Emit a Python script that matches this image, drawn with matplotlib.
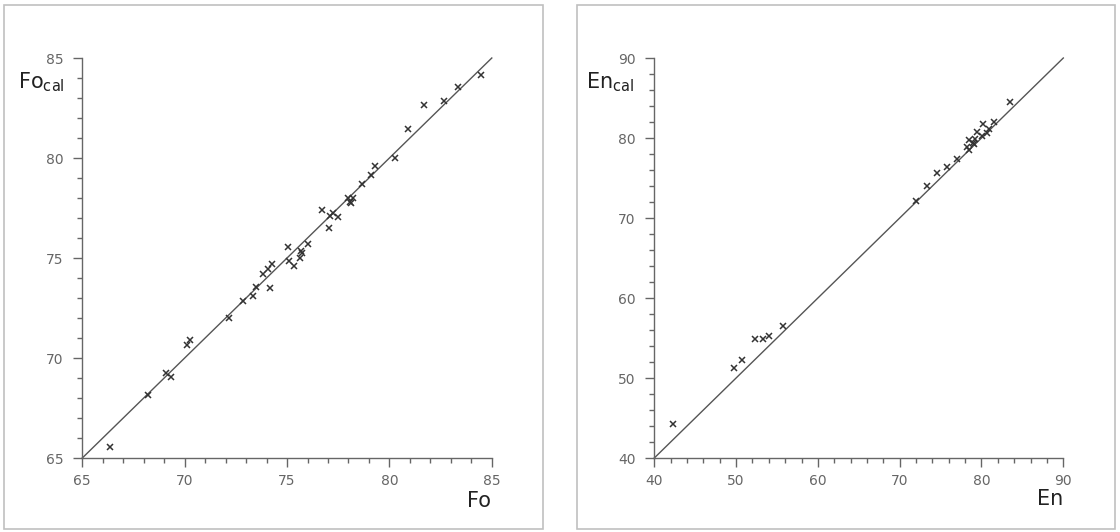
import matplotlib.pyplot as plt
from matplotlib.patches import Rectangle
from matplotlib.ticker import MultipleLocator

# Forsterite: observed vs calculated
fo_range = [65, 85]
fo_obs = [66.34, 68.23, 69.10, 69.33, 70.10, 70.24, 72.16, 72.83, 73.34, 73.47,
          74.17, 73.81, 74.05, 74.25, 75.03, 75.09, 75.32, 75.63, 75.68, 75.71,
          76.01, 76.70, 77.06, 77.09, 77.23, 77.49, 77.96, 78.09, 78.20, 78.14,
          78.67, 79.10, 79.28, 80.27, 80.90, 81.67, 82.68, 83.36, 84.48]
fo_cal = [65.57, 68.16, 69.24, 69.07, 70.64, 70.90, 72.01, 72.85, 73.10, 73.53,
          73.48, 74.22, 74.43, 74.72, 75.57, 74.85, 74.60, 75.02, 75.37, 75.27,
          75.72, 77.40, 76.52, 77.10, 77.27, 77.03, 77.99, 77.79, 78.00, 77.75,
          78.70, 79.17, 79.61, 80.02, 81.44, 82.65, 82.85, 83.55, 84.17]

# Enstatite: observed vs calculated
en_range = [40, 90]
en_obs = [42.23, 49.73, 50.73, 52.26, 53.31, 54.01, 55.75, 71.98, 73.29, 74.52,
          75.75, 77.04, 78.19, 78.51, 78.51, 78.92, 79.17, 79.12, 79.49, 80.02,
          80.15, 80.71, 80.92, 81.53, 83.48]
en_cal = [44.27, 51.28, 52.25, 54.91, 54.82, 55.25, 56.51, 72.18, 74.04, 75.62,
          76.37, 77.37, 78.82, 78.53, 79.78, 79.36, 79.90, 79.24, 80.74, 80.31,
          81.73, 80.61, 81.11, 81.98, 84.48]

W, H = 1120, 532
fig = plt.figure(figsize=(W / 100, H / 100), dpi=100)

# panel frames
for x0, x1 in [(4, 543), (577, 1115)]:
    fig.patches.append(Rectangle((x0 / W, 1 - 529 / H), (x1 - x0) / W, 524 / H,
                                 transform=fig.transFigure, fill=False,
                                 edgecolor='#c0c0c0', lw=1.2))


def make_panel(left, right, rng, major, minor, xs, ys):
    ax = fig.add_axes([left / W, 1 - 458 / H, (right - left) / W, 400 / H])
    ax.plot(rng, rng, color='#555555', lw=1, clip_on=False)
    ax.plot(xs, ys, 'x', color='#333333', ms=3.8, mew=1.1, clip_on=False)
    ax.set_xlim(rng)
    ax.set_ylim(rng)
    for s in ['top', 'right']:
        ax.spines[s].set_visible(False)
    for s in ['left', 'bottom']:
        ax.spines[s].set_color('#666666')
        ax.spines[s].set_linewidth(1)
    ax.xaxis.set_major_locator(MultipleLocator(major))
    ax.yaxis.set_major_locator(MultipleLocator(major))
    ax.xaxis.set_minor_locator(MultipleLocator(minor))
    ax.yaxis.set_minor_locator(MultipleLocator(minor))
    ax.tick_params(which='major', length=6.5, width=1, color='#666666',
                   labelcolor='#666666', labelsize=10, direction='out')
    ax.tick_params(which='minor', length=3.5, width=1, color='#666666', direction='out')
    ax.tick_params(axis='x', pad=5)
    ax.tick_params(axis='y', pad=7)
    return ax


make_panel(82.3, 491.8, fo_range, 5, 1, fo_obs, fo_cal)
make_panel(654.3, 1063.3, en_range, 10, 2, en_obs, en_cal)

lab = dict(fontsize=15, color='#222222', va='baseline')
fig.text(18 / W, 1 - 88 / H, r'Fo$_{\mathregular{cal}}$', ha='left', **lab)
fig.text(491 / W, 1 - 507 / H, 'Fo', ha='right', **lab)
fig.text(586 / W, 1 - 88 / H, r'En$_{\mathregular{cal}}$', ha='left', **lab)
fig.text(1063 / W, 1 - 505 / H, 'En', ha='right', **lab)

fig.savefig('out.png', dpi=100)
